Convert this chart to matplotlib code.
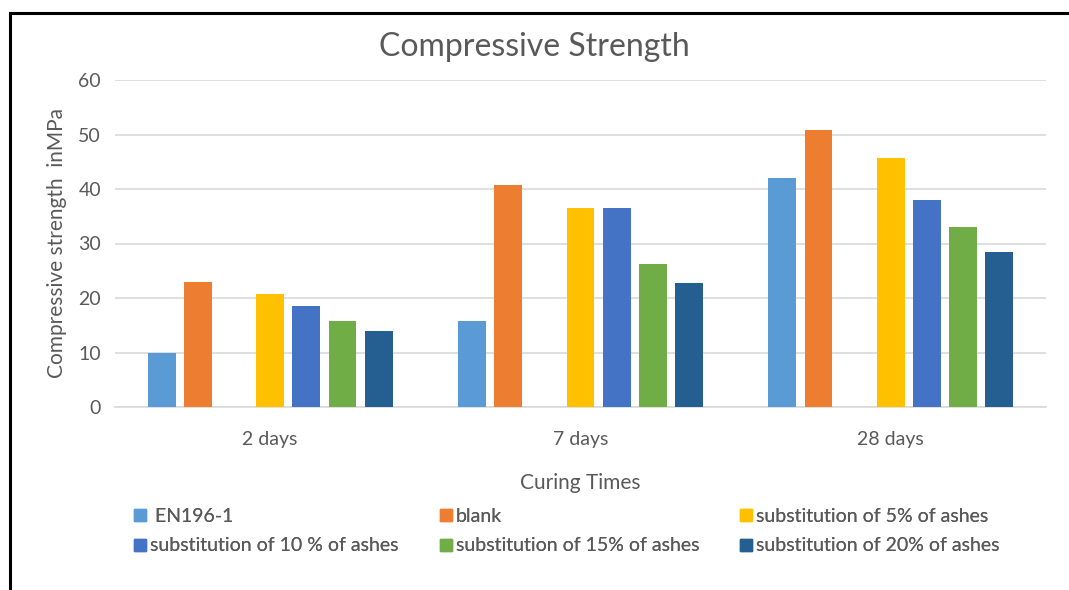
import matplotlib.pyplot as plt
import numpy as np
from matplotlib.lines import Line2D

plt.rcParams['font.family'] = ['Lato', 'DejaVu Sans']

# data
categories = ["2 days", "7 days", "28 days"]
series_names = [" EN196-1", "blank", "substitution of 5% of ashes",
                "substitution of 10 % of ashes", "substitution of 15% of ashes",
                "substitution of 20% of ashes"]
en196 = [10.0, 15.8, 42.1]
blank = [22.9, 40.7, 50.9]
sub5 = [20.7, 36.6, 45.7]
sub10 = [18.6, 36.6, 38.0]
sub15 = [15.7, 26.3, 33.0]
sub20 = [14.0, 22.8, 28.4]
colors = ["#5B9BD5", "#ED7D31", "#FFC000", "#4472C4", "#70AD47", "#255E91"]

# slot index of each series inside a group (slot 2 stays empty)
slots = [0, 1, 3, 4, 5, 6]
n_slots = 7
slot_w = 0.1165
bar_w = 0.09

text_col = "#595959"

fig = plt.figure(figsize=(10.69, 5.90), dpi=100)
ax = fig.add_axes([115 / 1069, 1 - 407 / 590, (1046 - 115) / 1069, (407 - 80) / 590])

x = np.arange(len(categories))
all_values = [en196, blank, sub5, sub10, sub15, sub20]
for vals, slot, col, name in zip(all_values, slots, colors, series_names):
    offset = (slot - (n_slots - 1) / 2) * slot_w
    ax.bar(x + offset, vals, width=bar_w, color=col, label=name, zorder=3)

ax.set_xlim(-0.5, 2.5)
ax.set_ylim(0, 60)
ax.set_yticks(np.arange(0, 61, 10))
ax.set_xticks(x)
ax.set_xticklabels(categories)
ax.grid(axis="y", color="#D9D9D9", linewidth=1.2, zorder=0)
for side in ["top", "right", "left"]:
    ax.spines[side].set_visible(False)
ax.spines["bottom"].set_color("#D9D9D9")
ax.spines["bottom"].set_linewidth(1.2)
ax.tick_params(axis="both", length=0, labelsize=14, colors=text_col)
ax.tick_params(axis="x", pad=17)
ax.tick_params(axis="y", pad=10)

ax.set_ylabel("Compressive strength  inMPa", fontsize=15, color=text_col, labelpad=8)
ax.set_xlabel("Curing Times", fontsize=15, color=text_col, labelpad=18)
fig.text(0.5, 1 - 47 / 590, "Compressive Strength", ha="center", va="center",
         fontsize=23, color=text_col)

# legend: three columns, two rows
handles = [Line2D([0], [0], marker="s", linestyle="", markersize=8,
                  markerfacecolor=c, markeredgecolor=c) for c in colors]
col_x = [133, 439, 739]
for k in range(3):
    idx = [k, k + 3]
    leg = fig.legend([handles[i] for i in idx], [series_names[i] for i in idx],
                     loc="center left", bbox_to_anchor=(col_x[k] / 1069, 1 - 531 / 590),
                     frameon=False, fontsize=14, handletextpad=0.15, borderpad=0,
                     borderaxespad=0, labelspacing=0.65, handlelength=0.7)
    for t in leg.get_texts():
        t.set_color(text_col)
    fig.add_artist(leg)

# outer frame lines
fig.add_artist(Line2D([10 / 1069, 10 / 1069], [0, 1 - 13 / 590], color="black",
                      linewidth=2.2, transform=fig.transFigure))
fig.add_artist(Line2D([10 / 1069, 1], [1 - 13 / 590, 1 - 13 / 590], color="black",
                      linewidth=2.2, transform=fig.transFigure))

fig.savefig("out.png", dpi=100)
